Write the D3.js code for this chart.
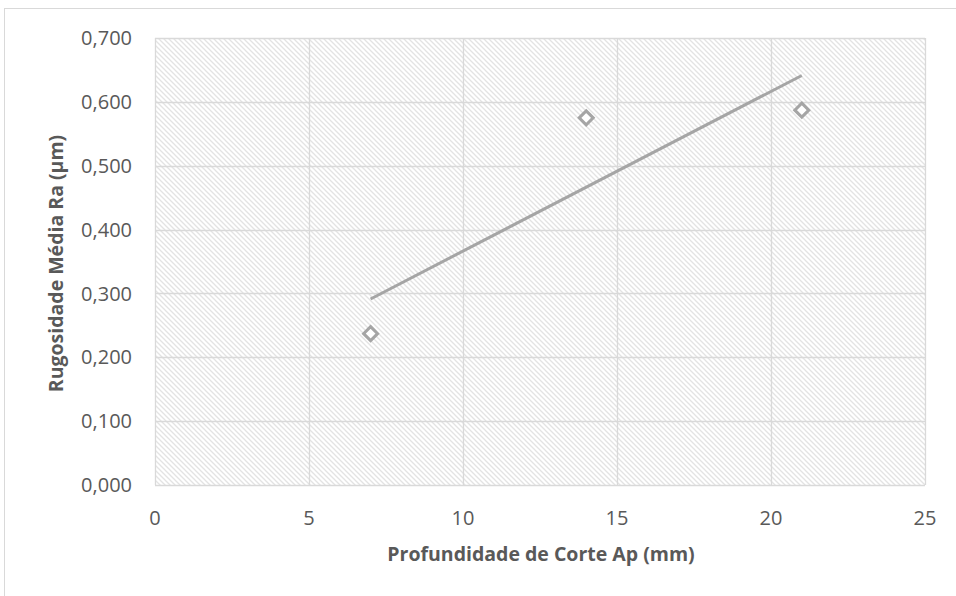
<!DOCTYPE html>
<html>
<head>
<meta charset="utf-8">
<script src="https://cdn.jsdelivr.net/npm/d3@7"></script>
<style>
  body { margin: 0; background: #fff; }
  svg { display: block; }
</style>
</head>
<body>
<script>
const depth = [7, 14, 21];
const roughness = [0.237, 0.575, 0.587];
const xTicks = [0, 5, 10, 15, 20, 25];
const yTicks = [0, 0.1, 0.2, 0.3, 0.4, 0.5, 0.6, 0.7];

const width = 956, height = 596;
const margin = {top: 38, right: 31, bottom: 111, left: 155};

const x = d3.scaleLinear().domain([0, 25]).range([margin.left, width - margin.right]);
const y = d3.scaleLinear().domain([0, 0.7]).range([height - margin.bottom, margin.top]);

const svg = d3.select("body").append("svg")
    .attr("width", width)
    .attr("height", height)
    .attr("font-family", "'Open Sans', sans-serif");

// chart area border
svg.append("rect")
    .attr("x", 4.5).attr("y", 8.5)
    .attr("width", 1000).attr("height", 1000)
    .attr("fill", "#fff")
    .attr("stroke", "#d9d9d9");

const defs = svg.append("defs");
const pat = defs.append("pattern")
    .attr("id", "hatch")
    .attr("patternUnits", "userSpaceOnUse")
    .attr("width", 5).attr("height", 5);
pat.append("rect").attr("width", 5).attr("height", 5).attr("fill", "#fff");
pat.append("path")
    .attr("d", "M-1,-1 L6,6 M-1,4 L1,6 M4,-1 L6,1")
    .attr("stroke", "#e3e3e3")
    .attr("stroke-width", 1.3);

svg.append("rect")
    .attr("x", x(0)).attr("y", y(0.7))
    .attr("width", x(25) - x(0)).attr("height", y(0) - y(0.7))
    .attr("fill", "url(#hatch)");

// gridlines
svg.append("g")
    .attr("stroke", "#d9d9d9")
    .attr("stroke-width", 1.3)
  .selectAll("line")
  .data(yTicks)
  .join("line")
    .attr("x1", x(0)).attr("x2", x(25))
    .attr("y1", d => Math.round(y(d)) + 0.5)
    .attr("y2", d => Math.round(y(d)) + 0.5);

svg.append("g")
    .attr("stroke", "#d9d9d9")
    .attr("stroke-width", 1.3)
  .selectAll("line")
  .data(xTicks)
  .join("line")
    .attr("y1", y(0)).attr("y2", y(0.7))
    .attr("x1", d => Math.round(x(d)) + 0.5)
    .attr("x2", d => Math.round(x(d)) + 0.5);

// tick labels
svg.append("g")
    .attr("fill", "#595959")
    .attr("font-size", 20)
    .attr("text-anchor", "end")
  .selectAll("text")
  .data(yTicks)
  .join("text")
    .attr("x", x(0) - 23)
    .attr("y", d => y(d))
    .attr("dy", "0.36em")
    .text(d => d.toFixed(3).replace(".", ","));

svg.append("g")
    .attr("fill", "#595959")
    .attr("font-size", 20)
    .attr("text-anchor", "middle")
  .selectAll("text")
  .data(xTicks)
  .join("text")
    .attr("x", d => x(d))
    .attr("y", y(0) + 40)
    .text(d => d);

// axis titles
svg.append("text")
    .attr("x", (x(0) + x(25)) / 2 + 1)
    .attr("y", 561)
    .attr("text-anchor", "middle")
    .attr("font-size", 19.5)
    .attr("font-weight", "bold")
    .attr("fill", "#595959")
    .text("Profundidade de Corte Ap (mm)");

svg.append("text")
    .attr("transform", `translate(63,${(y(0) + y(0.7)) / 2 + 2}) rotate(-90)`)
    .attr("text-anchor", "middle")
    .attr("font-size", 19.5)
    .attr("font-weight", "bold")
    .attr("fill", "#595959")
    .text("Rugosidade Média Ra (µm)");

// linear trendline (least squares)
const mx = d3.mean(depth), my = d3.mean(roughness);
const slope = d3.sum(depth, (d, i) => (d - mx) * (roughness[i] - my)) /
              d3.sum(depth, d => (d - mx) ** 2);
const intercept = my - slope * mx;
const [x0, x1] = d3.extent(depth);

svg.append("line")
    .attr("x1", x(x0)).attr("y1", y(intercept + slope * x0))
    .attr("x2", x(x1)).attr("y2", y(intercept + slope * x1))
    .attr("stroke", "#a5a5a5")
    .attr("stroke-width", 3);

// markers
svg.append("g")
  .selectAll("path")
  .data(depth.map((d, i) => [d, roughness[i]]))
  .join("path")
    .attr("transform", d => `translate(${x(d[0])},${y(d[1])})`)
    .attr("d", "M0,-7 L7,0 L0,7 L-7,0 Z")
    .attr("fill", "#fff")
    .attr("stroke", "#a5a5a5")
    .attr("stroke-width", 3);
</script>
</body>
</html>
